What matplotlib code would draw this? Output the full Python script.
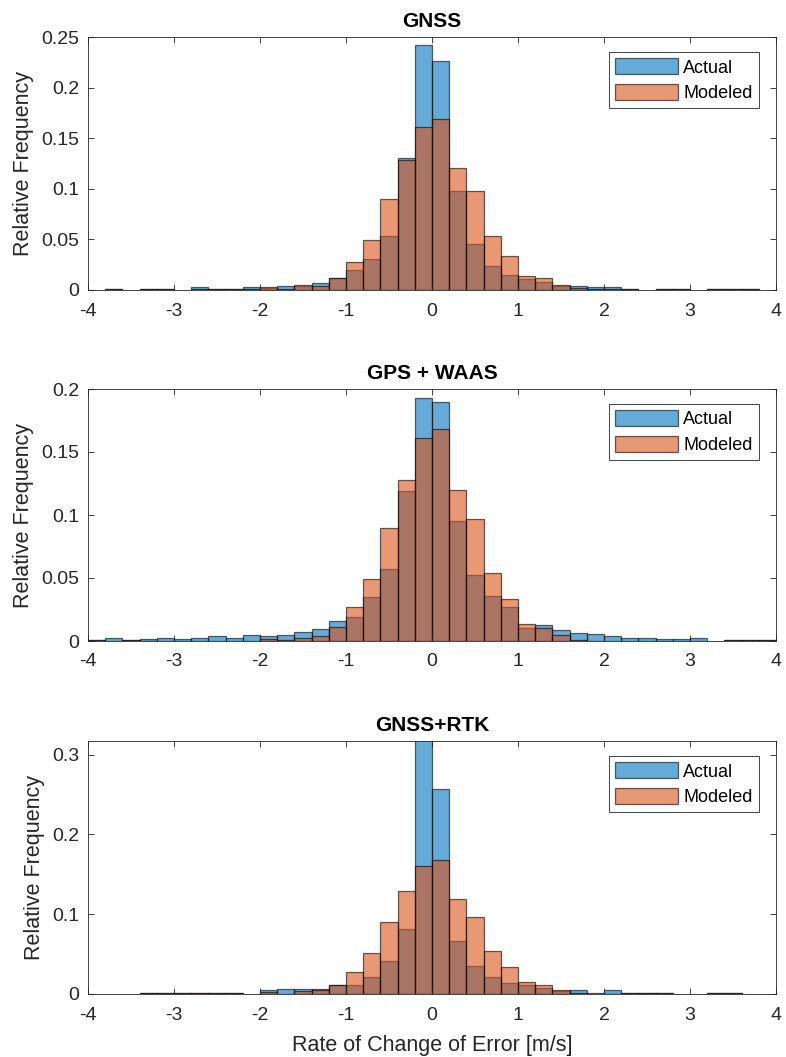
import numpy as np
import matplotlib
matplotlib.use('Agg')
import matplotlib.pyplot as plt

plt.rcParams['font.family'] = ['Liberation Sans', 'DejaVu Sans']

# bin edges of the histograms (m/s)
edges = np.round(np.arange(-4.0, 4.01, 0.2), 2)

titles = ['GNSS', 'GPS + WAAS', 'GNSS+RTK']

gnss_actual = [0, 0.001, 0, 0.001, 0.001, 0, 0.003, 0.001, 0.001, 0.0026,
               0.002, 0.004, 0.004, 0.0066, 0.0115, 0.020, 0.0306, 0.0536, 0.1306, 0.2418,
               0.2263, 0.0974, 0.045, 0.0237, 0.0148, 0.011, 0.0076, 0.004, 0.0036, 0.003,
               0.003, 0.001, 0, 0.001, 0.001, 0, 0.001, 0.001, 0.001, 0]
gnss_model = [0, 0.001, 0, 0.001, 0.001, 0, 0.001, 0.001, 0.001, 0.001,
              0.0025, 0.001, 0.005, 0.0036, 0.0115, 0.028, 0.0497, 0.090, 0.1286, 0.1615,
              0.169, 0.1204, 0.0977, 0.0536, 0.0339, 0.0138, 0.0115, 0.0046, 0.0015, 0.0008,
              0.0005, 0.001, 0, 0.001, 0.001, 0, 0.001, 0.001, 0.001, 0]

waas_actual = [0.0005, 0.0026, 0.0005, 0.0016, 0.0026, 0.0018, 0.0026, 0.004, 0.0026, 0.005,
               0.004, 0.005, 0.0068, 0.0097, 0.0155, 0.0192, 0.035, 0.0571, 0.1187, 0.1929,
               0.1897, 0.0955, 0.0526, 0.0355, 0.0266, 0.0103, 0.0126, 0.0087, 0.0066, 0.0055,
               0.0037, 0.0026, 0.0026, 0.0016, 0.0016, 0.0026, 0, 0.0008, 0.0008, 0.0008]
waas_model = [0.0005, 0, 0.0005, 0.0003, 0, 0, 0, 0, 0, 0,
              0.0016, 0.0005, 0.0026, 0.004, 0.0108, 0.0271, 0.0495, 0.0897, 0.1276, 0.161,
              0.1679, 0.1197, 0.0966, 0.0537, 0.0337, 0.0137, 0.0103, 0.0045, 0.0005, 0,
              0, 0, 0, 0, 0, 0, 0, 0.0008, 0.0008, 0.0008]

rtk_actual = [0, 0, 0, 0.001, 0.001, 0.001, 0.001, 0.001, 0.001, 0,
              0.0054, 0.0067, 0.006, 0.006, 0.011, 0.0117, 0.0217, 0.0417, 0.0817, 0.34,
              0.257, 0.0667, 0.035, 0.0208, 0.0138, 0.0117, 0.008, 0.004, 0.0046, 0.0017,
              0.005, 0.001, 0.001, 0.001, 0, 0, 0.001, 0.001, 0, 0]
rtk_model = [0, 0, 0, 0.001, 0.001, 0.001, 0.001, 0.001, 0.001, 0,
             0.002, 0, 0.0033, 0.005, 0.011, 0.027, 0.0508, 0.0908, 0.1288, 0.16,
             0.168, 0.119, 0.097, 0.054, 0.0338, 0.0146, 0.0113, 0.005, 0.0015, 0.0005,
             0.0005, 0.001, 0.001, 0.001, 0, 0, 0.001, 0.001, 0, 0]

actual = [gnss_actual, waas_actual, rtk_actual]
modeled = [gnss_model, waas_model, rtk_model]
ylims = [0.25, 0.2, 0.317]
yticks = [[0, 0.05, 0.1, 0.15, 0.2, 0.25],
          [0, 0.05, 0.1, 0.15, 0.2],
          [0, 0.1, 0.2, 0.3]]

blue = (0, 0.447, 0.741)
orange = (0.85, 0.325, 0.098)
axcol = (0.15, 0.15, 0.15)

fig = plt.figure(figsize=(7.86, 10.57), dpi=100)
W, H = 786, 1057
boxes = [(88, 37, 776, 290), (88, 389, 776, 641), (88, 741, 776, 994)]

for k in range(3):
    x0, y0, x1, y1 = boxes[k]
    ax = fig.add_axes([x0 / W, 1 - y1 / H, (x1 - x0) / W, (y1 - y0) / H])
    a = np.array(actual[k])
    m = np.array(modeled[k])
    left = edges[:-1]
    ia = a > 0
    im = m > 0
    ax.bar(left[ia], a[ia], width=0.2, align='edge', color=blue, alpha=0.6,
           edgecolor='black', linewidth=0.9, label='Actual')
    ax.bar(left[im], m[im], width=0.2, align='edge', color=orange, alpha=0.6,
           edgecolor='black', linewidth=0.9, label='Modeled')
    ax.set_xlim(-4, 4)
    ax.set_ylim(0, ylims[k])
    ax.set_xticks(np.arange(-4, 5, 1))
    ax.set_xticklabels([str(v) for v in range(-4, 5)])
    ax.set_yticks(yticks[k])
    ax.set_yticklabels(['0' if v == 0 else ('%g' % v) for v in yticks[k]])
    ax.tick_params(direction='in', top=True, right=True, length=4, width=0.6,
                   colors=axcol, labelsize=14)
    ax.tick_params(axis='x', pad=9)
    ax.tick_params(axis='y', pad=6.5)
    for s in ax.spines.values():
        s.set_color(axcol)
        s.set_linewidth(0.6)
    ax.set_title(titles[k], fontsize=15, fontweight='bold', pad=7)
    ax.set_ylabel('Relative Frequency', fontsize=15.5, color=axcol, labelpad=5)
    leg = ax.legend(loc='upper right', bbox_to_anchor=(0.975, 0.941), fontsize=13,
                    fancybox=False, framealpha=1, edgecolor=axcol, borderpad=0.35,
                    handlelength=3.5, handleheight=1.0, handletextpad=0.28,
                    labelspacing=0.4, borderaxespad=0)
    leg.get_frame().set_linewidth(0.6)
    if k == 2:
        ax.set_xlabel('Rate of Change of Error [m/s]', fontsize=15.5, color=axcol,
                      labelpad=8)

fig.savefig('out.png', dpi=100)
